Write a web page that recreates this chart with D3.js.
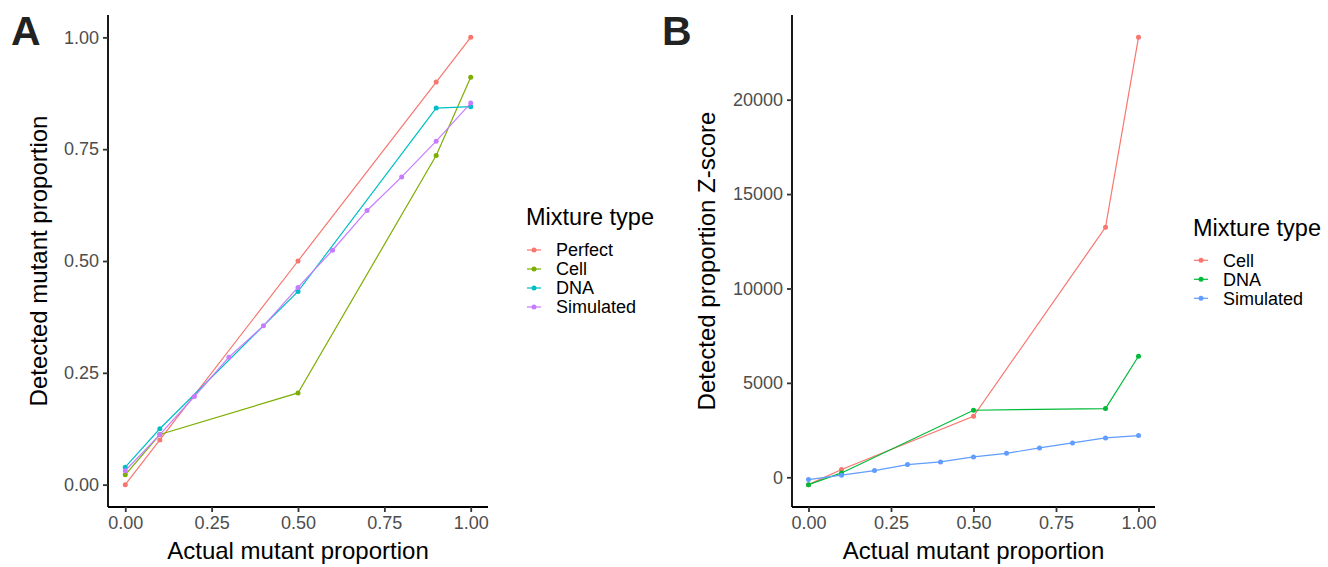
<!DOCTYPE html>
<meta charset="utf-8">
<style>
body { margin: 0; background: #fff; }
svg text { font-family: 'Liberation Sans', Arial, sans-serif; }
</style>
<body>
<svg id="chart" width="1328" height="567"></svg>
<script src="https://d3js.org/d3.v7.min.js"></script>
<script>
// x positions (actual mutant proportion)
var mixX = [0, 0.1, 0.5, 0.9, 1];
var simX = [0, 0.1, 0.2, 0.3, 0.4, 0.5, 0.6, 0.7, 0.8, 0.9, 1];

// panel A: detected mutant proportion
var aPerfect = [0, 0.1, 0.5, 0.9, 1];
var aCell = [0.022, 0.112, 0.205, 0.736, 0.911];
var aDNA = [0.039, 0.125, 0.432, 0.842, 0.845];
var aSim = [0.031, 0.112, 0.197, 0.285, 0.355, 0.441, 0.524, 0.613, 0.688, 0.768, 0.853];

// panel B: detected proportion Z-score
var bCell = [-390, 410, 3230, 13240, 23300];
var bDNA = [-390, 230, 3550, 3640, 6410];
var bSim = [-120, 110, 355, 670, 815, 1080, 1270, 1555, 1820, 2085, 2210];

var xTicks = [0, 0.25, 0.5, 0.75, 1];
var aYTicks = [0, 0.25, 0.5, 0.75, 1];
var bYTicks = [0, 5000, 10000, 15000, 20000];

var svg = d3.select("#chart");

function zip(xs, ys) { return xs.map(function(x, i) { return {x: x, y: ys[i]}; }); }

function drawPanel(p) {
  var g = svg.append("g");

  // 5% expansion like ggplot
  var xpad = 0.05;
  var x = d3.scaleLinear().domain([0 - xpad, 1 + xpad]).range([p.left, p.right]);
  var ymin = d3.min(p.series, function(s) { return d3.min(s.values); });
  var ymax = d3.max(p.series, function(s) { return d3.max(s.values); });
  var ypad = (ymax - ymin) * 0.05;
  var y = d3.scaleLinear().domain([ymin - ypad, ymax + ypad]).range([p.bottom, p.top]);

  p.series.forEach(function(s) {
    var pts = zip(s.xs, s.values);
    g.append("path")
      .datum(pts)
      .attr("fill", "none")
      .attr("stroke", s.color)
      .attr("stroke-width", 1.2)
      .attr("d", d3.line().x(function(d) { return x(d.x); }).y(function(d) { return y(d.y); }));
    g.selectAll(null)
      .data(pts)
      .enter().append("circle")
      .attr("cx", function(d) { return x(d.x); })
      .attr("cy", function(d) { return y(d.y); })
      .attr("r", 2.5)
      .attr("fill", s.color);
  });

  var xAxis = d3.axisBottom(x).tickValues(xTicks).tickSize(5).tickPadding(4)
    .tickFormat(d3.format(".2f"));
  var yAxis = d3.axisLeft(y).tickValues(p.yTicks).tickSize(5).tickPadding(4)
    .tickFormat(p.yFormat);

  var xa = g.append("g").attr("transform", "translate(0," + p.bottom + ")").call(xAxis);
  var ya = g.append("g").attr("transform", "translate(" + p.left + ",0)").call(yAxis);
  [xa, ya].forEach(function(a) {
    a.select(".domain").attr("stroke", "#000").attr("stroke-width", 1.8);
    a.selectAll(".tick line").attr("stroke", "#333").attr("stroke-width", 1.8);
    a.selectAll(".tick text").attr("fill", "#4d4d4d").style("font-size", "18px");
  });
  xa.select(".domain").attr("d", "M" + p.left + ",0H" + p.right);
  ya.select(".domain").attr("d", "M0," + p.bottom + "V" + p.top);

  g.append("text")
    .attr("x", (p.left + p.right) / 2)
    .attr("y", 559)
    .attr("text-anchor", "middle")
    .style("font-size", "24px")
    .text("Actual mutant proportion");

  g.append("text")
    .attr("transform", "translate(" + p.yTitleX + "," + ((p.top + p.bottom) / 2) + ") rotate(-90)")
    .attr("text-anchor", "middle")
    .style("font-size", "24px")
    .text(p.yTitle);

  g.append("text")
    .attr("x", p.tagX)
    .attr("y", 45)
    .style("font-size", "41px")
    .style("font-weight", "bold")
    .attr("fill", "#222")
    .text(p.tag);

  // legend
  var lg = g.append("g");
  lg.append("text")
    .attr("x", p.legX)
    .attr("y", p.legTitleY)
    .style("font-size", "23.5px")
    .text("Mixture type");
  p.series.forEach(function(s, i) {
    var cy = p.legRowY + i * 19;
    lg.append("line")
      .attr("x1", p.legX + 1).attr("x2", p.legX + 15)
      .attr("y1", cy).attr("y2", cy)
      .attr("stroke", s.color).attr("stroke-width", 1.2);
    lg.append("circle")
      .attr("cx", p.legX + 8).attr("cy", cy).attr("r", 2.5)
      .attr("fill", s.color);
    lg.append("text")
      .attr("x", p.legX + 30)
      .attr("y", cy)
      .attr("dy", "0.36em")
      .style("font-size", "18px")
      .text(s.name);
  });
}

drawPanel({
  tag: "A", tagX: 11,
  left: 108, right: 488, top: 15, bottom: 507,
  yTicks: aYTicks, yFormat: d3.format(".2f"),
  yTitle: "Detected mutant proportion", yTitleX: 47,
  legX: 526, legTitleY: 225, legRowY: 250,
  series: [
    {name: "Perfect", color: "#F8766D", xs: mixX, values: aPerfect},
    {name: "Cell", color: "#7CAE00", xs: mixX, values: aCell},
    {name: "DNA", color: "#00BFC4", xs: mixX, values: aDNA},
    {name: "Simulated", color: "#C77CFF", xs: simX, values: aSim}
  ]
});

drawPanel({
  tag: "B", tagX: 662,
  left: 792, right: 1155, top: 15, bottom: 507,
  yTicks: bYTicks, yFormat: d3.format("d"),
  yTitle: "Detected proportion Z-score", yTitleX: 715,
  legX: 1193, legTitleY: 236, legRowY: 260.3,
  series: [
    {name: "Cell", color: "#F8766D", xs: mixX, values: bCell},
    {name: "DNA", color: "#00BA38", xs: mixX, values: bDNA},
    {name: "Simulated", color: "#619CFF", xs: simX, values: bSim}
  ]
});
</script>
</body>
